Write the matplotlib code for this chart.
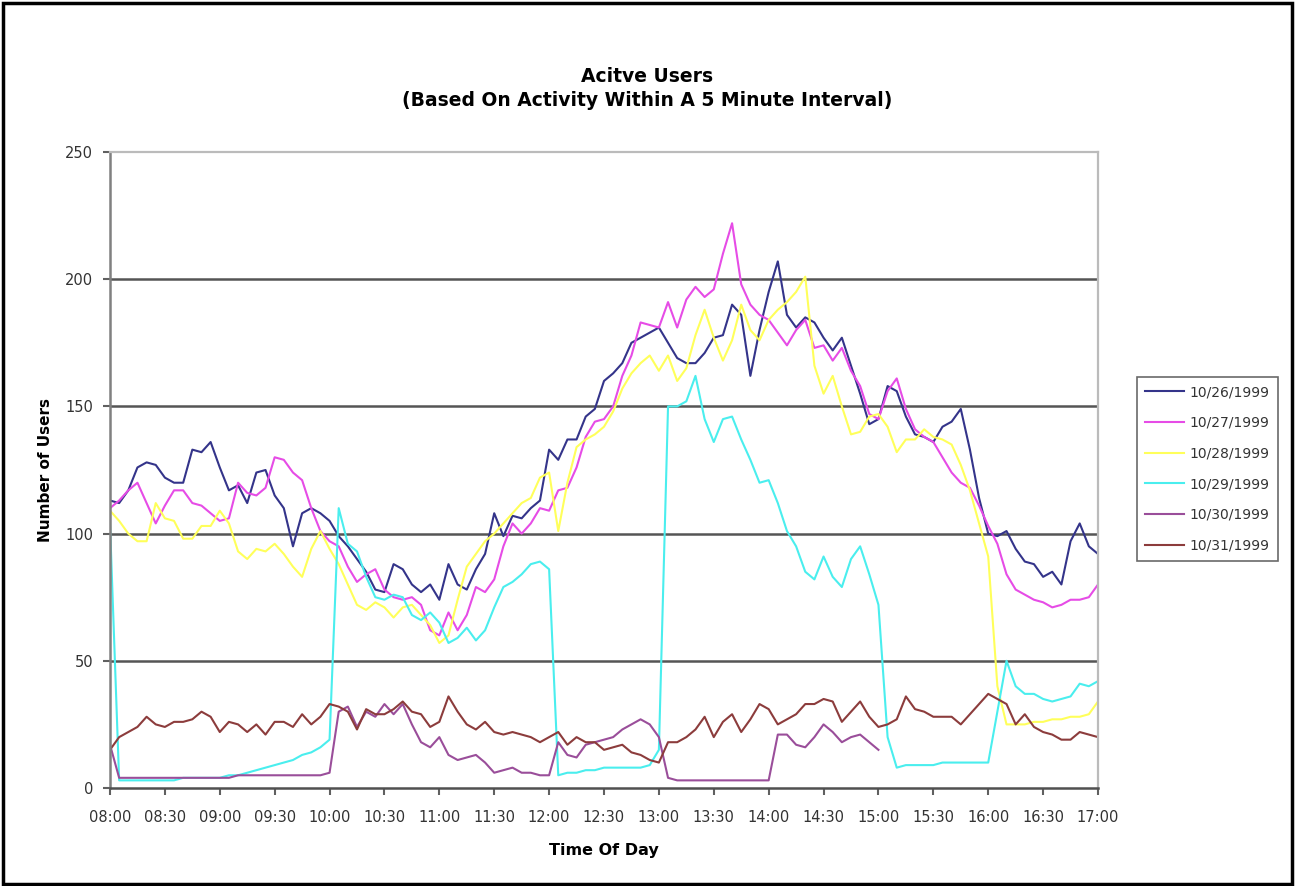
import matplotlib
matplotlib.use('Agg')
import matplotlib.pyplot as plt
from matplotlib.patches import Rectangle
import numpy as np

# users active in each 5 minute slot, 08:00 .. 17:00 (109 slots)
users_1026 = [113, 112, 117, 126, 128, 127, 122, 120, 120, 133,
              132, 136, 126, 117, 119, 112, 124, 125, 115, 110,
              95, 108, 110, 108, 105, 99, 95, 90, 85, 78,
              77, 88, 86, 80, 77, 80, 74, 88, 80, 78,
              86, 92, 108, 99, 107, 106, 110, 113, 133, 129,
              137, 137, 146, 149, 160, 163, 167, 175, 177, 179,
              181, 175, 169, 167, 167, 171, 177, 178, 190, 186,
              162, 180, 195, 207, 186, 181, 185, 183, 177, 172,
              177, 166, 155, 143, 145, 158, 156, 146, 139, 138,
              136, 142, 144, 149, 133, 114, 100, 99, 101, 94,
              89, 88, 83, 85, 80, 97, 104, 95, 92]

users_1027 = [110, 113, 117, 120, 112, 104, 111, 117, 117, 112,
              111, 108, 105, 106, 120, 116, 115, 118, 130, 129,
              124, 121, 110, 101, 97, 95, 87, 81, 84, 86,
              78, 75, 74, 75, 72, 62, 60, 69, 62, 68,
              79, 77, 82, 95, 104, 100, 104, 110, 109, 117,
              118, 126, 138, 144, 145, 150, 162, 170, 183, 182,
              181, 191, 181, 192, 197, 193, 196, 210, 222, 198,
              190, 186, 184, 179, 174, 180, 184, 173, 174, 168,
              173, 164, 158, 147, 145, 156, 161, 149, 141, 138,
              136, 130, 124, 120, 118, 111, 103, 96, 84, 78,
              76, 74, 73, 71, 72, 74, 74, 75, 80]

users_1028 = [109, 105, 100, 97, 97, 112, 106, 105, 98, 98,
              103, 103, 109, 104, 93, 90, 94, 93, 96, 92,
              87, 83, 94, 101, 94, 88, 80, 72, 70, 73,
              71, 67, 71, 72, 68, 64, 57, 60, 74, 87,
              92, 97, 100, 104, 108, 112, 114, 122, 124, 101,
              120, 134, 137, 139, 142, 148, 157, 163, 167, 170,
              164, 170, 160, 165, 178, 188, 177, 168, 176, 190,
              180, 176, 184, 188, 191, 195, 201, 166, 155, 162,
              150, 139, 140, 146, 147, 142, 132, 137, 137, 141,
              138, 137, 135, 127, 117, 104, 91, 40, 25, 25,
              25, 26, 26, 27, 27, 28, 28, 29, 34]

users_1029 = [104, 3, 3, 3, 3, 3, 3, 3, 4, 4,
              4, 4, 4, 5, 5, 6, 7, 8, 9, 10,
              11, 13, 14, 16, 19, 110, 96, 93, 83, 75,
              74, 76, 75, 68, 66, 69, 65, 57, 59, 63,
              58, 62, 71, 79, 81, 84, 88, 89, 86, 5,
              6, 6, 7, 7, 8, 8, 8, 8, 8, 9,
              15, 150, 150, 152, 162, 145, 136, 145, 146, 137,
              129, 120, 121, 112, 101, 95, 85, 82, 91, 83,
              79, 90, 95, 84, 72, 20, 8, 9, 9, 9,
              9, 10, 10, 10, 10, 10, 10, 30, 50, 40,
              37, 37, 35, 34, 35, 36, 41, 40, 42]

# 10/30 only runs until 15:00
users_1030 = [17, 4, 4, 4, 4, 4, 4, 4, 4, 4,
              4, 4, 4, 4, 5, 5, 5, 5, 5, 5,
              5, 5, 5, 5, 6, 30, 32, 24, 30, 28,
              33, 29, 33, 25, 18, 16, 20, 13, 11, 12,
              13, 10, 6, 7, 8, 6, 6, 5, 5, 18,
              13, 12, 17, 18, 19, 20, 23, 25, 27, 25,
              20, 4, 3, 3, 3, 3, 3, 3, 3, 3,
              3, 3, 3, 21, 21, 17, 16, 20, 25, 22,
              18, 20, 21, 18, 15] + [np.nan] * 24

users_1031 = [15, 20, 22, 24, 28, 25, 24, 26, 26, 27,
              30, 28, 22, 26, 25, 22, 25, 21, 26, 26,
              24, 29, 25, 28, 33, 32, 30, 23, 31, 29,
              29, 31, 34, 30, 29, 24, 26, 36, 30, 25,
              23, 26, 22, 21, 22, 21, 20, 18, 20, 22,
              17, 20, 18, 18, 15, 16, 17, 14, 13, 11,
              10, 18, 18, 20, 23, 28, 20, 26, 29, 22,
              27, 33, 31, 25, 27, 29, 33, 33, 35, 34,
              26, 30, 34, 28, 24, 25, 27, 36, 31, 30,
              28, 28, 28, 25, 29, 33, 37, 35, 33, 25,
              29, 24, 22, 21, 19, 19, 22, 21, 20]

days = ['10/26/1999', '10/27/1999', '10/28/1999',
        '10/29/1999', '10/30/1999', '10/31/1999']
time_labels = ['08:00', '08:30', '09:00', '09:30', '10:00', '10:30',
               '11:00', '11:30', '12:00', '12:30', '13:00', '13:30',
               '14:00', '14:30', '15:00', '15:30', '16:00', '16:30', '17:00']

series = [users_1026, users_1027, users_1028, users_1029, users_1030, users_1031]
colors = ['#34348a', '#e64ce6', '#ffff5a', '#4aeeee', '#9a4e9a', '#8c3c3c']

plt.rcParams['font.family'] = ['DejaVu Sans']

fig = plt.figure(figsize=(12.95, 8.86), dpi=100)
ax = fig.add_axes([110 / 1295, 1 - 788 / 886, (1098 - 110) / 1295, (788 - 152) / 886])

minutes = np.arange(109) * 5
for vals, c, d in zip(series, colors, days):
    ax.plot(minutes, vals, color=c, lw=1.5, label=d, solid_joinstyle='round')

ax.set_xlim(0, 540)
ax.set_ylim(0, 250)
ax.set_xticks(np.arange(0, 541, 30))
ax.set_xticklabels(time_labels)
ax.set_yticks(np.arange(0, 251, 50))

for v in [50, 100, 150, 200]:
    ax.axhline(v, color='#555555', lw=1.8, zorder=0)

ax.spines['left'].set_color('#808080')
ax.spines['left'].set_linewidth(1.8)
ax.spines['bottom'].set_color('#505050')
ax.spines['bottom'].set_linewidth(1.8)
ax.spines['top'].set_color('#bbbbbb')
ax.spines['top'].set_linewidth(1.6)
ax.spines['right'].set_color('#bbbbbb')
ax.spines['right'].set_linewidth(1.6)

ax.tick_params(axis='both', direction='out', length=5, width=1.5,
               color='#606060', labelsize=10.5, labelcolor='#333333')
ax.tick_params(axis='x', pad=11)
ax.tick_params(axis='y', pad=7)

ax.set_xlabel('Time Of Day', fontsize=11.5, fontweight='bold', labelpad=13)
ax.set_ylabel('Number of Users', fontsize=11, fontweight='bold', labelpad=9)

fig.text(0.5, 1 - 76 / 886, 'Acitve Users', ha='center', va='center',
         fontsize=13.5, fontweight='bold')
fig.text(0.5, 1 - 101 / 886, '(Based On Activity Within A 5 Minute Interval)',
         ha='center', va='center', fontsize=13.5, fontweight='bold')

leg = ax.legend(loc='upper left', bbox_to_anchor=(1137 / 1295, 1 - 377 / 886),
                bbox_transform=fig.transFigure, fontsize=10, frameon=True,
                fancybox=False, handlelength=2.8, labelspacing=1.2,
                borderpad=0.6, handletextpad=0.4, borderaxespad=0)
leg.get_frame().set_edgecolor('#444444')
leg.get_frame().set_linewidth(1.2)
for t in leg.get_texts():
    t.set_color('#333333')

# outer chart frame
fig.patches.append(Rectangle((0.002, 0.002), 0.996, 0.995, transform=fig.transFigure,
                             fill=False, ec='black', lw=2.5))

fig.savefig('out.png', dpi=100)
